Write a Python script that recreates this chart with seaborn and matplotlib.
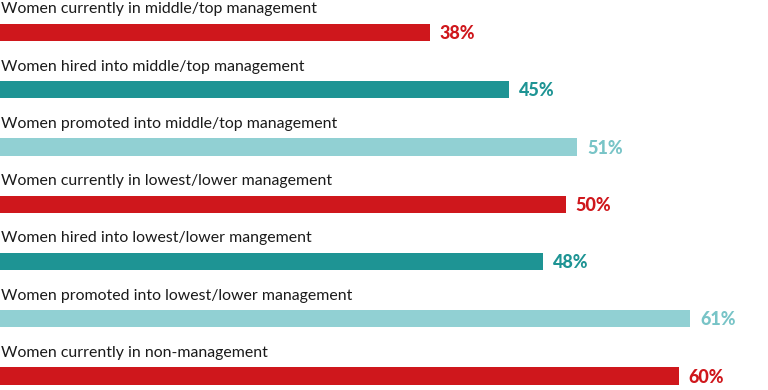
import matplotlib
matplotlib.use("Agg")
import matplotlib.pyplot as plt
import seaborn as sns

# data
labels = [
    "Women currently in middle/top management",
    "Women hired into middle/top management",
    "Women promoted into middle/top management",
    "Women currently in lowest/lower management",
    "Women hired into lowest/lower mangement",
    "Women promoted into lowest/lower management",
    "Women currently in non-management",
]
values = [38, 45, 51, 50, 48, 61, 60]

red = "#cf171c"
teal = "#1e9494"
light = "#91d0d3"
bar_colors = [red, teal, light, red, teal, light, red]
text_colors = [red, teal, "#78c4c7", red, teal, "#78c4c7", red]

sns.set_style("white")
plt.rcParams["font.family"] = ["Lato", "DejaVu Sans"]

fig = plt.figure(figsize=(7.68, 3.9), dpi=100)
ax = fig.add_axes([0, 0, 1, 1])

sns.barplot(x=values, y=labels, hue=labels, palette=bar_colors,
            legend=False, width=0.297, orient="h", ax=ax, saturation=1,
            linewidth=0)

ax.set_xlim(0, 768 / 11.31)
ax.set_ylim(390 / 57.25 - 32.5 / 57.25, -32.5 / 57.25)
ax.axis("off")

for i, (lab, v) in enumerate(zip(labels, values)):
    ax.text(0.05, i - 0.335, lab, fontsize=11.4, color="#1a1a1a",
            va="baseline", ha="left")
    ax.text(v + 0.9, i + 0.02, f"{v}%", fontsize=13, fontweight="black",
            color=text_colors[i], va="center", ha="left")

fig.savefig("out.png", dpi=100)
